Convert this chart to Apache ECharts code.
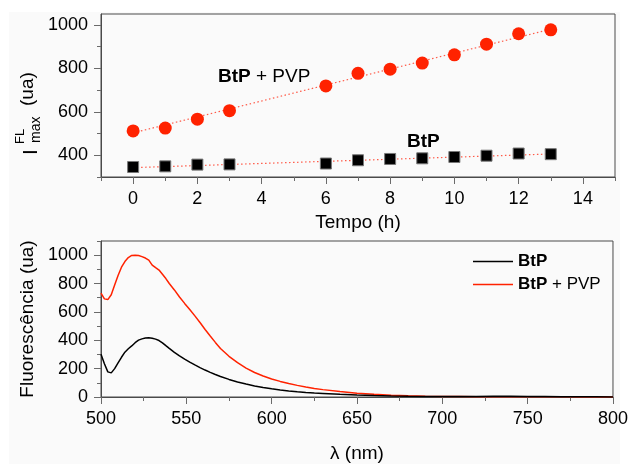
<!DOCTYPE html>
<html>
<head>
<meta charset="utf-8">
<script src="https://cdn.jsdelivr.net/npm/echarts@6/dist/echarts.min.js"></script>
<style>html,body{margin:0;padding:0;background:#fff}#c{width:631px;height:464px}</style>
</head>
<body>
<div id="c"></div>
<script>
// ---------- data ----------
const timeH = [0, 1, 2, 3, 6, 7, 8, 9, 10, 11, 12, 13];
const pvpMax = [512, 525, 566, 605, 719, 777, 796, 824, 862, 911, 959, 977];
const btpMax = [346, 349, 357, 358, 362, 377, 383, 386, 392, 398, 408, 405];
const fitX = [0, 13];
const fitPvp = [503, 980];
const fitBtp = [343, 406];

const wl = [500,502,504,506,508,510,512,514,516,518,520,522,524,526,528,530,532,534,536,538,540,543,546,549,552,555,558,561,564,567,570,575,580,585,590,595,600,605,610,615,620,625,630,640,650,660,670,680,690,700,710,720,730,740,750,760,770,780,790,800];
const pvpSpec = [733,692,687,721,789,857,915,955,983,998,1000,998,990,980,965,930,912,895,865,835,800,755,705,660,617,572,525,476,430,385,342,287,242,204,173,148,127,110,95,82,70,60,52,38,27,19,13,9,6,4,3,2,2,2,1,1,1,0,0,0];
const btpSpec = [302,234,177,170,200,240,280,316,340,360,383,401,410,416,417,414,408,398,382,362,343,315,290,267,246,226,207,190,174,159,145,124,106,91,78,67,58,50,43,37,32,28,25,19,14,10,7,5,4,3,3,4,5,5,4,3,2,1,1,0];

const topXMajor = [0, 2, 4, 6, 8, 10, 12, 14];
const topXMinor = [-1, 1, 3, 5, 7, 9, 11, 13, 15];
const topYMajor = [400, 600, 800, 1000];
const topYMinor = [300, 500, 700, 900];
const botXMajor = [500, 550, 600, 650, 700, 750, 800];
const botXMinor = [525, 575, 625, 675, 725, 775];
const botYMajor = [0, 200, 400, 600, 800, 1000];
const botYMinor = [100, 300, 500, 700, 900, 1100];

// ---------- chart ----------
const FF = 'Liberation Sans, Arial, sans-serif';
const RED = '#ff2200';
const FRAME = '#4a4a4a';
const TICK = '#6a6a6a';
const TICKFS = 18;

function zip(a, b) { return a.map((v, i) => [v, b[i]]); }
function plain(v) { return String(v); }

function mainX(grid, min, max, major, name, gap) {
  return {
    gridIndex: grid, type: 'value', min: min, max: max,
    axisLine: { show: true, onZero: false, lineStyle: { color: FRAME, width: 1 } },
    axisTick: { show: true, customValues: major, length: 7, lineStyle: { color: TICK } },
    axisLabel: { customValues: major, formatter: plain, fontSize: TICKFS, fontFamily: FF, color: '#000', margin: 13 },
    splitLine: { show: false },
    name: name, nameLocation: 'middle', nameGap: gap,
    nameTextStyle: { fontSize: 19, fontFamily: FF, color: '#000' }
  };
}
function minorX(grid, min, max, minor) {
  return {
    gridIndex: grid, type: 'value', min: min, max: max, position: 'bottom',
    axisLine: { show: false, onZero: false },
    axisTick: { show: true, customValues: minor, length: 4, lineStyle: { color: TICK } },
    axisLabel: { show: false }, splitLine: { show: false }
  };
}
function mainY(grid, min, max, major, name, gap) {
  const o = {
    gridIndex: grid, type: 'value', min: min, max: max,
    axisLine: { show: true, onZero: false, lineStyle: { color: FRAME, width: 1 } },
    axisTick: { show: true, customValues: major, length: 7, lineStyle: { color: TICK } },
    axisLabel: { customValues: major, formatter: plain, fontSize: TICKFS, fontFamily: FF, color: '#000', margin: 13 },
    splitLine: { show: false }
  };
  if (name) {
    o.name = name; o.nameLocation = 'middle'; o.nameGap = gap;
    o.nameTextStyle = { fontSize: 19, fontFamily: FF, color: '#000' };
  }
  return o;
}
function minorY(grid, min, max, minor) {
  return {
    gridIndex: grid, type: 'value', min: min, max: max, position: 'left',
    axisLine: { show: false, onZero: false },
    axisTick: { show: true, customValues: minor, length: 4, lineStyle: { color: TICK } },
    axisLabel: { show: false }, splitLine: { show: false }
  };
}

const chart = echarts.init(document.getElementById('c'), null, { renderer: 'canvas' });
const option = {
  animation: false,
  backgroundColor: '#ffffff',
  textStyle: { fontFamily: FF },
  grid: [
    { left: 101, right: 16, top: 14, height: 163, show: true, borderColor: FRAME, borderWidth: 1, backgroundColor: 'transparent' },
    { left: 101, right: 16, top: 241, height: 162, show: true, borderColor: FRAME, borderWidth: 1, backgroundColor: 'transparent' }
  ],
  xAxis: [
    mainX(0, -1, 15, topXMajor, 'Tempo (h)', 36),
    minorX(0, -1, 15, topXMinor),
    mainX(1, 500, 800, botXMajor, 'λ (nm)', 47),
    minorX(1, 500, 800, botXMinor)
  ],
  yAxis: [
    mainY(0, 300, 1050, topYMajor),
    minorY(0, 300, 1050, topYMinor),
    mainY(1, 0, 1100, botYMajor, 'Fluorescência (ua)', 62),
    minorY(1, 0, 1100, botYMinor)
  ],
  legend: {
    data: ['BtP', 'BtP + PVP'],
    orient: 'vertical', left: 473, top: 253, padding: 0,
    itemWidth: 40, itemHeight: 1.5, itemGap: 6, icon: 'rect',
    formatter: function (n) { return n === 'BtP' ? '{b|BtP}' : '{b|BtP}{n| + PVP}'; },
    textStyle: {
      color: '#000', fontFamily: FF, fontSize: 17,
      rich: { b: { fontWeight: 'bold', fontSize: 17, fontFamily: FF, color: '#000' },
              n: { fontSize: 17, fontFamily: FF, color: '#000' } }
    }
  },
  graphic: [
    { type: 'rect', z: -10, silent: true, shape: { x: 9, y: 12, width: 611, height: 452 }, style: { fill: '#fafafa' } },
    { type: 'text', left: 218, top: 67, z: 10,
      style: { text: '{b|BtP}{n| + PVP}', rich: { b: { fontWeight: 'bold', fontSize: 19, fontFamily: FF, fill: '#000' }, n: { fontSize: 19, fontFamily: FF, fill: '#000' } } } },
    { type: 'text', left: 407, top: 132, z: 10,
      style: { text: 'BtP', font: 'bold 19px ' + FF, fill: '#000' } },
    { type: 'group', x: 0, y: 0, rotation: Math.PI / 2, z: 10, children: [
      { type: 'text', x: -155, y: 31, style: { text: 'I', font: '21px ' + FF, fill: '#000', align: 'left', verticalAlign: 'middle' } },
      { type: 'text', x: -144, y: 20, style: { text: 'FL', font: '13px ' + FF, fill: '#000', align: 'left', verticalAlign: 'middle' } },
      { type: 'text', x: -143, y: 36, style: { text: 'max', font: '14px ' + FF, fill: '#000', align: 'left', verticalAlign: 'middle' } },
      { type: 'text', x: -106, y: 28, style: { text: '(ua)', font: '19px ' + FF, fill: '#000', align: 'left', verticalAlign: 'middle' } }
    ] }
  ],
  series: [
    { name: 'fitPvp', type: 'line', xAxisIndex: 0, yAxisIndex: 0, data: zip(fitX, fitPvp), showSymbol: false, z: 1,
      lineStyle: { color: '#ff5a48', width: 1.2, type: [1.5, 2.5] }, silent: true },
    { name: 'fitBtp', type: 'line', xAxisIndex: 0, yAxisIndex: 0, data: zip(fitX, fitBtp), showSymbol: false, z: 1,
      lineStyle: { color: '#ff5a48', width: 1.2, type: [1.5, 2.5] }, silent: true },
    { name: 'pvpMax', type: 'scatter', xAxisIndex: 0, yAxisIndex: 0, data: zip(timeH, pvpMax), symbol: 'circle', symbolSize: 13, z: 3,
      itemStyle: { color: RED, opacity: 1 } },
    { name: 'btpMax', type: 'scatter', xAxisIndex: 0, yAxisIndex: 0, data: zip(timeH, btpMax), symbol: 'rect', symbolSize: 11, z: 3,
      itemStyle: { color: '#000', borderColor: '#777', borderWidth: 1, opacity: 1 } },
    { name: 'BtP', type: 'line', xAxisIndex: 2, yAxisIndex: 2, data: zip(wl, btpSpec), showSymbol: false, z: 3,
      itemStyle: { color: '#000' }, lineStyle: { color: '#000', width: 1.5 } },
    { name: 'BtP + PVP', type: 'line', xAxisIndex: 2, yAxisIndex: 2, data: zip(wl, pvpSpec), showSymbol: false, z: 2,
      itemStyle: { color: RED }, lineStyle: { color: RED, width: 1.5 } }
  ]
};
chart.setOption(option);
</script>
</body>
</html>
